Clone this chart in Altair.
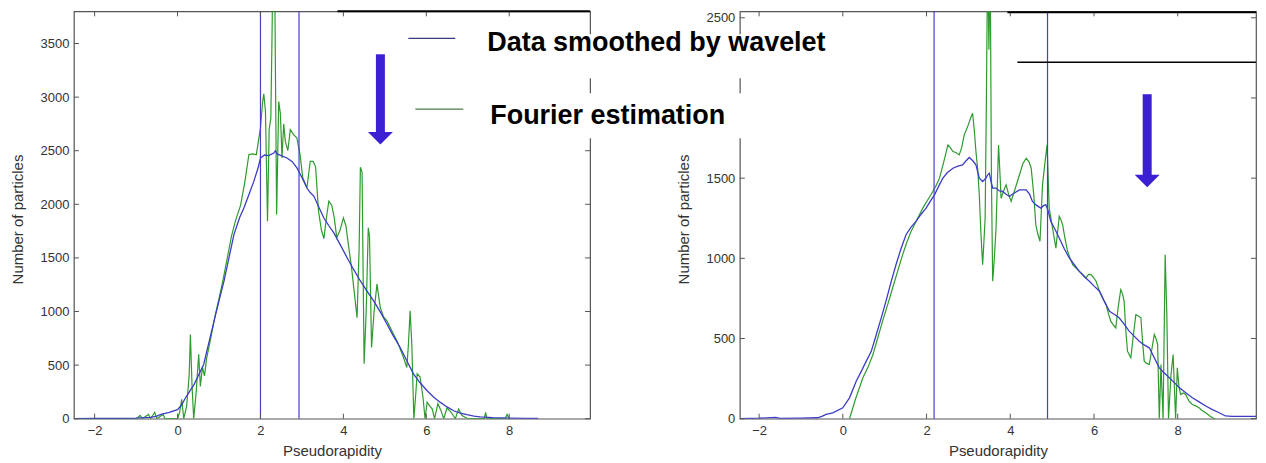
import altair as alt
import pandas as pd

# ---------------- data ----------------
SERIES = ["Data smoothed by wavelet", "Fourier estimation"]

L_BLUE_X = [-2.5, -2.0, -1.5, -1.0, -0.8, -0.65, -0.5, -0.4, -0.2, 0.0, 0.1, 0.2, 0.3, 0.4, 0.5, 0.63, 0.75,
            0.88, 1.0, 1.12, 1.25, 1.36, 1.5, 1.6, 1.72, 1.84, 1.95, 2.0, 2.1, 2.2, 2.32, 2.36, 2.4, 2.5, 2.64,
            2.76, 2.88, 3.0, 3.12, 3.2, 3.29, 3.4, 3.53, 3.65, 3.77, 3.9, 4.09, 4.25, 4.41, 4.57, 4.73, 4.9,
            5.05, 5.2, 5.37, 5.53, 5.69, 5.85, 6.02, 6.18, 6.34, 6.5, 6.66, 6.82, 6.98, 7.15, 7.3, 7.6, 8.0,
            8.4, 8.7]
L_BLUE_Y = [0, 2, 3, 5, 10, 12, 25, 40, 60, 85, 130, 200, 260, 320, 400, 506, 700,
            910, 1100, 1283, 1520, 1717, 1880, 1966, 2090, 2214, 2350, 2432, 2460, 2455, 2478, 2500, 2470, 2455, 2432,
            2400, 2339, 2250, 2152, 2110, 2075, 1980, 1872, 1800, 1733, 1640, 1502, 1390, 1285, 1190, 1099, 990,
            884, 775, 664, 540, 419, 335, 261, 200, 152, 110, 74, 52, 37, 25, 18, 10, 6,
            4, 3]

L_GREEN_X = [-2.5, -1.0, -0.9, -0.85, -0.7, -0.65, -0.55, -0.5, -0.35, -0.3, 0.0, 0.05, 0.1, 0.15, 0.22, 0.28,
             0.31, 0.35, 0.39, 0.45, 0.51, 0.55, 0.6, 0.65, 0.7, 0.8, 0.9, 1.0, 1.1, 1.2, 1.3, 1.4, 1.52, 1.62,
             1.72, 1.8, 1.9, 2.0, 2.05, 2.08, 2.12, 2.17, 2.21, 2.25, 2.28, 2.3, 2.34, 2.36, 2.39, 2.44, 2.48,
             2.52, 2.56, 2.6, 2.66, 2.72, 2.8, 2.88, 2.96, 3.02, 3.12, 3.2, 3.27, 3.33, 3.4, 3.47, 3.53, 3.6,
             3.65, 3.72, 3.78, 3.84, 3.92, 4.0, 4.06, 4.12, 4.2, 4.25, 4.33, 4.38, 4.41, 4.45, 4.5, 4.55, 4.6,
             4.63, 4.68, 4.74, 4.81, 4.89, 4.97, 5.05, 5.13, 5.21, 5.3, 5.37, 5.45, 5.53, 5.57, 5.61, 5.65, 5.7,
             5.74, 5.78, 5.85, 5.92, 5.97, 6.02, 6.08, 6.14, 6.2, 6.28, 6.35, 6.42, 6.5, 6.6, 6.7, 6.78, 6.86,
             7.0, 7.4, 7.43, 7.46, 7.9, 7.95, 8.0]
L_GREEN_Y = [0, 0, 30, 0, 40, 0, 60, 0, 40, 0, 0, 60, 180, 0, 120, 400,
             785, 300, 0, 250, 600, 300, 480, 400, 560, 750, 950, 1120, 1300, 1500, 1700, 1850, 1990, 2200,
             2463, 2470, 2463, 2711, 2950, 3030, 2870, 1841, 2700, 2804, 3600, 4300, 4300, 3300, 1904, 2960, 2850,
             2432, 2750, 2587, 2500, 2696, 2650, 2618, 2450, 2250, 2152, 2401, 2400, 2350, 1937, 1760, 1680, 1900,
             2030, 1990, 1874, 1689, 1760, 1874, 1800, 1626, 1400, 1223, 942, 1600, 2346, 2300, 512, 1000, 1781,
             1700, 664, 1000, 1255, 1037, 950, 912, 850, 788, 720, 650, 571, 478, 700, 1006, 700, 0,
             200, 419, 388, 200, 0, 155, 120, 93, 0, 140, 80, 0, 100, 60, 0, 90, 30,
             0, 0, 60, 0, 0, 40, 0]

R_BLUE_X = [-2.46, -2.0, -1.6, -1.5, -1.0, -0.6, -0.5, -0.4, -0.24, 0.0, 0.16, 0.32, 0.45, 0.56, 0.68, 0.8, 0.92,
            1.03, 1.15, 1.27, 1.39, 1.51, 1.63, 1.75, 1.87, 1.99, 2.1, 2.19, 2.3, 2.39, 2.5, 2.63, 2.75, 2.86,
            2.95, 3.02, 3.1, 3.18, 3.26, 3.34, 3.42, 3.46, 3.5, 3.54, 3.58, 3.66, 3.74, 3.82, 3.9, 3.98, 4.05,
            4.22, 4.38, 4.46, 4.53, 4.63, 4.73, 4.8, 4.85, 4.9, 4.97, 5.07, 5.17, 5.29, 5.41, 5.53, 5.65, 5.77,
            5.89, 6.01, 6.13, 6.25, 6.37, 6.49, 6.6, 6.72, 6.84, 6.96, 7.08, 7.2, 7.32, 7.44, 7.56, 7.68, 7.8,
            7.92, 8.04, 8.2, 8.35, 8.51, 8.67, 8.83, 8.99, 9.14, 9.3, 9.6, 9.87]
R_BLUE_Y = [0, 3, 8, 2, 4, 6, 15, 27, 37, 68, 130, 234, 300, 359, 420, 525, 630,
            732, 850, 960, 1060, 1147, 1195, 1230, 1275, 1313, 1360, 1396, 1455, 1500, 1535, 1562, 1575, 1583,
            1610, 1629, 1610, 1583, 1500, 1479, 1500, 1521, 1531, 1479, 1438, 1438, 1420, 1417, 1400, 1386, 1400,
            1427, 1427, 1400, 1355, 1330, 1313, 1330, 1334, 1300, 1230, 1180, 1127, 1060, 1002, 960, 919, 885,
            857, 825, 795, 730, 670, 650, 629, 590, 546, 515, 483, 460, 442, 380, 317, 285, 255,
            225, 193, 160, 131, 105, 79, 57, 37, 17, 15, 15, 15]

R_GREEN_X = [0.16, 0.3, 0.48, 0.6, 0.72, 0.83, 0.95, 1.07, 1.19, 1.31, 1.43, 1.53, 1.63, 1.77, 1.91, 2.03, 2.15,
             2.23, 2.31, 2.41, 2.51, 2.57, 2.63, 2.7, 2.78, 2.84, 2.9, 2.98, 3.06, 3.1, 3.14, 3.18, 3.22, 3.26,
             3.3, 3.34, 3.37, 3.4, 3.43, 3.46, 3.49, 3.52, 3.55, 3.58, 3.62, 3.66, 3.72, 3.75, 3.78, 3.84, 3.9,
             3.96, 4.02, 4.1, 4.22, 4.3, 4.38, 4.45, 4.5, 4.56, 4.61, 4.66, 4.71, 4.77, 4.83, 4.88, 4.93, 5.01,
             5.09, 5.17, 5.21, 5.25, 5.31, 5.37, 5.43, 5.49, 5.57, 5.65, 5.73, 5.81, 5.87, 5.93, 5.99, 6.05,
             6.11, 6.17, 6.23, 6.29, 6.35, 6.4, 6.46, 6.52, 6.58, 6.64, 6.68, 6.72, 6.76, 6.8, 6.84, 6.88, 6.94,
             7.0, 7.06, 7.12, 7.16, 7.2, 7.26, 7.32, 7.38, 7.44, 7.48, 7.52, 7.56, 7.6, 7.65, 7.7, 7.74, 7.78,
             7.84, 7.89, 7.95, 7.99, 8.03, 8.07, 8.13, 8.19, 8.27, 8.35, 8.43, 8.51, 8.59, 8.67, 8.75, 8.83, 8.9]
R_GREEN_Y = [0, 120, 255, 320, 400, 500, 608, 710, 815, 920, 1023, 1100, 1168, 1240, 1313, 1365, 1417,
             1455, 1500, 1600, 1707, 1690, 1666, 1660, 1645, 1690, 1770, 1820, 1880, 1905, 1800, 1666, 1562, 1396,
             1150, 960, 1100, 1251, 2000, 2900, 2300, 2900, 1500, 857, 1000, 1189, 1707, 1550, 1375, 1420, 1458,
             1400, 1355, 1420, 1521, 1590, 1624, 1600, 1562, 1400, 1210, 1150, 1106, 1458, 1600, 1707, 1313, 1189,
             1064, 1261, 1240, 1210, 1120, 1044, 1000, 960, 940, 919, 900, 878, 900, 898, 880, 857,
             810, 774, 740, 712, 650, 608, 585, 566, 700, 805, 780, 732, 550, 421, 400, 380, 520,
             649, 640, 629, 480, 359, 345, 338, 430, 525, 500, 463, 0, 338, 0, 1023, 649, 0,
             276, 400, 0, 317, 200, 151, 160, 151, 110, 89, 80, 68, 50, 37, 20, 6, 0]

X_TICKS = [-2, 0, 2, 4, 6, 8]
L_Y_TICKS = [0, 500, 1000, 1500, 2000, 2500, 3000, 3500]
L_Y_LABELS = [0, 500, 1000, 1500, 2000, 2500, 3000, 3500]
R_Y_TICKS = [0, 500, 1000, 1500, 2000, 2500]
R_Y_LABELS = [0, 500, 1000, 1500, 2500]  # the 2000 label is hidden behind the legend
L_MARKERS = [2.0, 2.93]
R_MARKERS = [2.18, 4.89]

# ---------------- styling ----------------
W, H = 517, 408
BLUE = "#3c3cc4"
GREEN = "#2f9a2f"
VLINE = "#4a3ccc"
ARROW = "#3b1fd2"
FRAME = "#555555"
TXT = "#333333"
FONT = "Liberation Sans"


def panel(bx, by, gx, gy, markers, xdom, ydom, yticks, ylabels, extras):
    xs = alt.X("x:Q", scale=alt.Scale(domain=xdom, nice=False, zero=False),
               axis=alt.Axis(values=X_TICKS, format="d", title="Pseudorapidity", grid=False, domain=False,
                             ticks=False, tickSize=0, labelPadding=6, titleY=37,
                             titleBaseline="alphabetic", labelFlush=False))
    ys = alt.Y("y:Q", scale=alt.Scale(domain=ydom, nice=False, zero=False),
               axis=alt.Axis(values=ylabels, format="d", title="Number of particles", grid=False,
                             domain=False, ticks=False, tickSize=0, labelPadding=5, titleX=-51, titleY=208,
                             titleBaseline="alphabetic", titleAlign="center", labelFlush=False))
    blue = pd.DataFrame({"x": bx, "y": by, "series": SERIES[0]})
    green = pd.DataFrame({"x": gx, "y": gy, "series": SERIES[1]})
    xt = pd.DataFrame({"x": X_TICKS})
    yt = pd.DataFrame({"y": yticks})
    mk = pd.DataFrame({"x": markers})

    layers = [
        alt.Chart(green).mark_line(color=GREEN, strokeWidth=1.2, clip=True).encode(x=xs, y=ys, order="x:Q"),
        alt.Chart(blue).mark_line(color=BLUE, strokeWidth=1.3, clip=True).encode(x=xs, y=ys, order="x:Q"),
        alt.Chart(mk).mark_rule(color=VLINE, strokeWidth=1.2).encode(x=xs),
        # inward tick marks (matlab style box)
        alt.Chart(xt).mark_rule(color=FRAME, strokeWidth=1).encode(x=xs, y=alt.value(H), y2=alt.value(H - 5)),
        alt.Chart(xt).mark_rule(color=FRAME, strokeWidth=1).encode(x=xs, y=alt.value(0), y2=alt.value(5)),
        alt.Chart(yt).mark_rule(color=FRAME, strokeWidth=1).encode(y=ys, x=alt.value(0), x2=alt.value(5)),
        alt.Chart(yt).mark_rule(color=FRAME, strokeWidth=1).encode(y=ys, x=alt.value(W), x2=alt.value(W - 5)),
    ]
    layers += extras
    return alt.layer(*layers).properties(width=W, height=H)


one = pd.DataFrame({"k": [0]})


def hrule(x1, x2, y, color="black", w=1.5):
    return alt.Chart(one).mark_rule(color=color, strokeWidth=w).encode(
        x=alt.value(x1), x2=alt.value(x2), y=alt.value(y))


def arrow(x, y1, y2, yhead):
    shaft = alt.Chart(one).mark_rule(color=ARROW, strokeWidth=9, strokeCap="butt").encode(
        x=alt.value(x), y=alt.value(y1), y2=alt.value(y2))
    head = alt.Chart(one).mark_point(shape="M-1,-0.5L1,-0.5L0,0.5Z", filled=True, color=ARROW,
                                     opacity=1, size=625, strokeWidth=0).encode(
        x=alt.value(x), y=alt.value(yhead))
    return [shaft, head]


# anchors fixing the page offsets (invisible)
anchors = [
    alt.Chart(one).mark_rule(opacity=0, strokeWidth=1).encode(x=alt.value(-65), y=alt.value(-2), y2=alt.value(0)),
]

left_extras = anchors + [hrule(264, W, 0, "black", 2)] + arrow(307, 43, 123, 127)

leg1 = pd.DataFrame({"label": [SERIES[0]]})
leg2 = pd.DataFrame({"label": [SERIES[1]]})
right_extras = [
    alt.Chart(one).mark_rect(color="white").encode(x=alt.value(-345), x2=alt.value(110),
                                                   y=alt.value(23), y2=alt.value(67)),
    alt.Chart(one).mark_rect(color="white").encode(x=alt.value(-345), x2=alt.value(110),
                                                   y=alt.value(82), y2=alt.value(127)),
    hrule(-332, -285, 27, "#3a3a7a", 1.2),
    hrule(-325, -277, 98, "#4a7a4a", 1.2),
    alt.Chart(leg1).mark_text(align="left", baseline="alphabetic", font=FONT, fontWeight="bold",
                              fontSize=27, color="black").encode(
        x=alt.value(-253), y=alt.value(40), text="label:N"),
    alt.Chart(leg2).mark_text(align="left", baseline="alphabetic", font=FONT, fontWeight="bold",
                              fontSize=27, color="black").encode(
        x=alt.value(-250), y=alt.value(113), text="label:N"),
    hrule(268, W, 1, "black", 2),
    hrule(278, W, 51, "black", 1.5),
] + arrow(408, 83, 166, 170)

left = panel(L_BLUE_X, L_BLUE_Y, L_GREEN_X, L_GREEN_Y, L_MARKERS, [-2.5, 9.95], [0, 3800],
             L_Y_TICKS, L_Y_LABELS, left_extras)
right = panel(R_BLUE_X, R_BLUE_Y, R_GREEN_X, R_GREEN_Y, R_MARKERS, [-2.46, 9.87], [0, 2540],
              R_Y_TICKS, R_Y_LABELS, right_extras)

chart = alt.hconcat(left, right, spacing=150, bounds="flush", padding=0, background="white").configure_view(
    stroke=FRAME, strokeWidth=1.2
).configure_axis(
    labelFont=FONT, labelFontSize=13, labelColor=TXT,
    titleFont=FONT, titleFontSize=15, titleColor=TXT, titleFontWeight="normal",
)

chart.save("out.html", embed_options={"renderer": "svg", "actions": False})
